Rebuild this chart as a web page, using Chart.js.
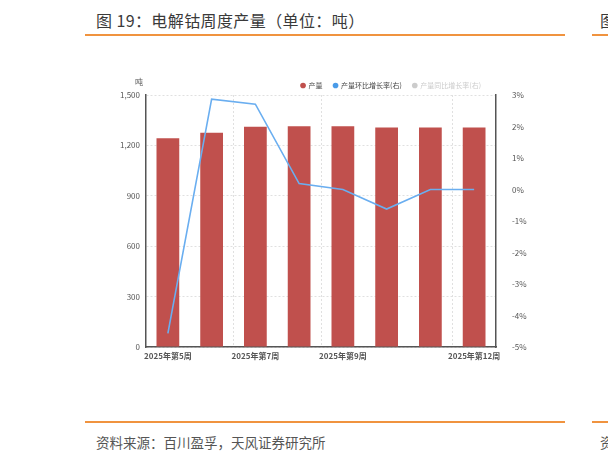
<!DOCTYPE html>
<html>
<head>
<meta charset="utf-8">
<script src="https://cdn.jsdelivr.net/npm/chart.js@4.4.1/dist/chart.umd.min.js"></script>
<style>
	body { margin: 0; width: 608px; height: 454px; background: #fff; overflow: hidden; position: relative; font-family: "Noto Sans CJK SC", sans-serif; }
	.title { position: absolute; left: 96px; top: 8px; font-size: 16px; color: #3a3a3a; white-space: nowrap; letter-spacing: 0.4px; }
	.title2 { position: absolute; left: 600px; top: 8px; font-size: 16px; color: #3a3a3a; }
	.rule { position: absolute; height: 2px; background: #f0933f; }
	.source { position: absolute; left: 96px; top: 432px; font-size: 13.5px; color: #555; white-space: nowrap; }
	.source2 { position: absolute; left: 600px; top: 432px; font-size: 13.5px; color: #555; }
	#box { position: absolute; left: 90px; top: 67px; width: 440px; height: 303px; }
</style>
</head>
<body>
<div class="title">图 19：电解钴周度产量（单位：吨）</div>
<div class="title2">图</div>
<div class="rule" style="left:85px; top:34px; width:480px;"></div>
<div class="rule" style="left:592px; top:34px; width:20px;"></div>
<div id="box"><canvas id="mycanvas"></canvas></div>
<div class="rule" style="left:85px; top:421px; width:480px;"></div>
<div class="rule" style="left:592px; top:421px; width:20px;"></div>
<div class="source">资料来源：百川盈孚，天风证券研究所</div>
<div class="source2">资</div>
<script>
var weeks = ['2025年第5周', '2025年第6周', '2025年第7周', '2025年第8周', '2025年第9周', '2025年第10周', '2025年第11周', '2025年第12周'];
var shownWeeks = ['2025年第5周', '2025年第7周', '2025年第9周', '2025年第12周'];
var output = [1242, 1276, 1311, 1314, 1314, 1306, 1306, 1306];
var momRate = [-4.57, 2.87, 2.71, 0.19, 0, -0.62, 0, 0];
var yoyRate = [];
var leftTicks = [0, 300, 600, 900, 1200, 1500];

var tickFont = { family: '"Noto Sans CJK SC", sans-serif', size: 8 };

// unit label over the left axis, legend pulled in to the plot's right edge
var extras = {
	id: 'extras',
	afterLayout: function(chart) {
		chart.legend.right = chart.chartArea.right - 4;
		chart.legend.top += 4;
	},
	afterDraw: function(chart) {
		var ctx = chart.ctx;
		var y = chart.scales.y;
		ctx.save();
		ctx.fillStyle = '#555';
		ctx.font = '8px "Noto Sans CJK SC", sans-serif';
		ctx.textAlign = 'center';
		ctx.fillText('吨', y.right - 7, y.top - 13);
		ctx.restore();
	}
};

var chartdata = {
	labels: weeks,
	datasets: [
		{
			type: 'bar',
			label: '产量',
			data: output,
			backgroundColor: '#c0504d',
			yAxisID: 'y',
			order: 2,
			barPercentage: 0.52,
			categoryPercentage: 1
		},
		{
			type: 'line',
			label: '产量环比增长率(右)',
			data: momRate,
			borderColor: '#6aaef0',
			backgroundColor: '#4a9be8',
			borderWidth: 1.6,
			pointRadius: 0,
			tension: 0,
			yAxisID: 'y1',
			order: 1
		},
		{
			type: 'line',
			label: '产量同比增长率(右)',
			data: yoyRate,
			borderColor: '#ccc',
			backgroundColor: '#ccc',
			pointRadius: 0,
			yAxisID: 'y1',
			hidden: true,
			order: 3
		}
	]
};

var ctx = document.getElementById('mycanvas');

var barGraph = new Chart(ctx, {
	data: chartdata,
	plugins: [extras],
	options: {
		responsive: true,
		maintainAspectRatio: false,
		animation: false,
		plugins: {
			tooltip: { enabled: false },
			legend: {
				position: 'top',
				align: 'end',
				labels: {
					usePointStyle: true,
					pointStyle: 'circle',
					boxWidth: 4,
					boxHeight: 4,
					padding: 11,
					font: { family: '"Noto Sans CJK SC", sans-serif', size: 7 },
					generateLabels: function(chart) {
						return chart.data.datasets.map(function(ds, i) {
							var off = !chart.isDatasetVisible(i);
							return {
								text: ds.label,
								fillStyle: off ? '#ccc' : ds.backgroundColor,
								strokeStyle: off ? '#ccc' : ds.backgroundColor,
								fontColor: off ? '#ccc' : '#444',
								lineWidth: 0,
								pointStyle: 'circle',
								hidden: false,
								datasetIndex: i
							};
						});
					}
				}
			}
		},
		scales: {
			x: {
				grid: {
					offset: true,
					drawTicks: false,
					color: function(c) {
						if (c.index === 0) return 'rgba(0,0,0,0)';
						return shownWeeks.indexOf(weeks[c.index]) >= 0 ? '#e0e0e0' : 'rgba(0,0,0,0)';
					}
				},
				border: { color: '#555', width: 1.5, dash: [2, 2] },
				ticks: {
					autoSkip: false,
					maxRotation: 0,
					padding: 4,
					color: '#555',
					font: { family: '"Noto Sans CJK SC", sans-serif', size: 8, weight: 'bold' },
					callback: function(v, i) {
						return shownWeeks.indexOf(weeks[i]) >= 0 ? weeks[i] : '';
					}
				},
				afterFit: function(s) { s.height = 23; }
			},
			y: {
				position: 'left',
				min: 0,
				max: 1500,
				afterBuildTicks: function(s) { s.ticks = leftTicks.map(function(v) { return { value: v }; }); },
				grid: { color: '#e0e0e0', drawTicks: false },
				border: { color: '#555', width: 1.5, dash: [2, 2] },
				ticks: {
					color: '#555',
					font: tickFont,
					padding: 6,
					callback: function(v) { return v.toLocaleString('en-US'); }
				},
				afterFit: function(s) { s.width = 56; }
			},
			y1: {
				position: 'right',
				min: -5,
				max: 3,
				grid: { display: false },
				border: { color: '#555', width: 1.5 },
				ticks: {
					stepSize: 1,
					color: '#555',
					font: tickFont,
					padding: 8,
					callback: function(v) { return v + '%'; }
				},
				afterFit: function(s) { s.width = 34; }
			}
		}
	}
});
</script>
</body>
</html>
